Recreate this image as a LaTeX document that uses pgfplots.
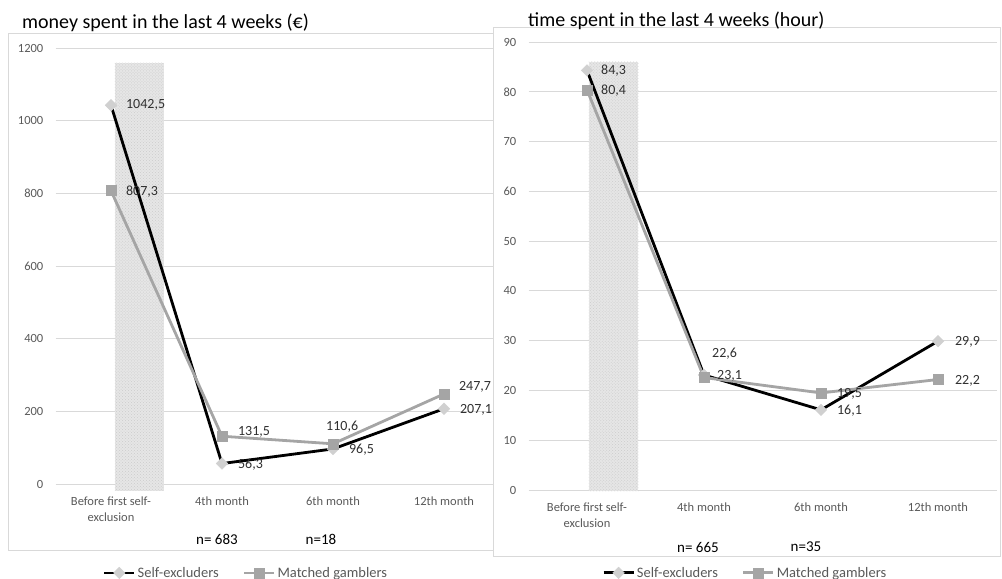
\documentclass[border=0pt]{standalone}
\usepackage{fontspec}
\setmainfont{Carlito}
\usepackage{pgfplots}
\pgfplotsset{compat=1.18}
\usepackage{pgfplotstable}
\usetikzlibrary{patterns}

\definecolor{gridc}{HTML}{D9D9D9}
\definecolor{tickc}{HTML}{595959}
\definecolor{matchc}{HTML}{A5A5A5}
\definecolor{selfm}{HTML}{D0D0D0}
\definecolor{bandc}{HTML}{E6E6E6}
\definecolor{labc}{HTML}{303030}

% x y label dx dy (label offset from the point, in pt)
\pgfplotstableread{
x y lab dx dy
0 1042.5 1042,5 15 0
1 56.3 56,3 16 -1
2 96.5 96,5 16 -1
3 207.1 207,1 16 -1
}\moneyself
\pgfplotstableread{
x y lab dx dy
0 807.3 807,3 15 -1
1 131.5 131,5 16 4
2 110.6 110,6 -7 17
3 247.7 247,7 15 7
}\moneymatch
\pgfplotstableread{
x y lab dx dy
0 84.3 84,3 14 0
1 23.1 23,1 13 -1
2 16.1 16,1 16 -1
3 29.9 29,9 17 -1
}\timeself
\pgfplotstableread{
x y lab dx dy
0 80.4 80,4 14 -1
1 22.6 22,6 8 24
2 19.5 19,5 16 -1
3 22.2 22,2 17 -1
}\timematch

\pgfplotsset{
  chart/.style={
    scale only axis, xmin=-0.5, xmax=3.5, ymin=0,
    axis line style={draw=none}, major tick length=0pt,
    ymajorgrids, grid style={gridc, line width=0.9bp},
    xtick={0,1,2,3},
    xticklabels={{Before first self-\\exclusion},{4th month},{6th month},{12th month}},
    xticklabel style={align=center, font=\fontsize{12.5bp}{15.5bp}\selectfont,
      text=tickc, anchor=north, inner sep=0pt, yshift=-13bp},
    yticklabel style={font=\fontsize{12.5bp}{15bp}\selectfont, text=tickc,
      anchor=east, inner sep=0pt, xshift=-12bp},
    /pgf/number format/assume math mode=true,
    /pgf/number format/1000 sep={},
    clip=false,
    legend columns=2,
    legend style={draw=none, fill=none, font=\fontsize{14.5bp}{16bp}\selectfont,
      text=tickc, anchor=center, inner sep=0pt,
      /tikz/every even column/.append style={column sep=22bp}},
    legend image code/.code={\draw[mark repeat=2, mark phase=2]
      plot coordinates {(0bp,0bp) (15bp,0bp) (30bp,0bp)};},
  },
  band/.style={draw=none, fill=bandc,
    postaction={pattern=crosshatch dots, pattern color=black!20}},
  labels/.style={draw=none, mark=none, forget plot,
    nodes near coords, point meta=explicit symbolic,
    visualization depends on={\thisrow{dx}\as\dx},
    visualization depends on={\thisrow{dy}\as\dy},
    every node near coord/.append style={anchor=west, inner sep=0pt,
      xshift=\dx, yshift=\dy, text=labc, font=\fontsize{14bp}{14bp}\selectfont}},
  selfline/.style={black, line width=2.8bp, mark=square*, mark size=4.1bp,
    mark options={fill=selfm, draw=selfm, line width=0.4bp, rotate=45, solid}},
  matchline/.style={matchc, line width=2.8bp, mark=square*, mark size=5bp,
    mark options={fill=matchc, draw=matchc, line width=0.4bp, solid}},
}

\begin{document}
\begin{tikzpicture}
\useasboundingbox (0,0) rectangle (1002bp,579bp);

% left chart frame
\draw[gridc, line width=0.8bp] (8bp,29bp) rectangle (495bp,546bp);

\begin{axis}[chart, at={(55.5bp,95bp)}, anchor=south west,
    width=444bp, height=436bp, ymax=1200, ytick={0,200,...,1200},
    legend style={at={(0.429,-0.204)}}]
  \addplot[band, forget plot] coordinates {(0.036,-19) (0.477,-19) (0.477,1159) (0.036,1159)} -- cycle;
  \addplot[selfline] table[x=x, y=y] {\moneyself};
  \addlegendentry{Self-excluders}
  \addplot[labels] table[x=x, y=y, meta=lab] {\moneyself};
  \addplot[matchline] table[x=x, y=y] {\moneymatch};
  \addlegendentry{Matched gamblers}
  \addplot[labels] table[x=x, y=y, meta=lab] {\moneymatch};
\end{axis}

% right chart frame
\filldraw[fill=white, draw=gridc, line width=0.8bp] (493bp,23bp) rectangle (1000bp,552bp);

\begin{axis}[chart, at={(528.5bp,89bp)}, anchor=south west,
    width=468bp, height=448bp, ymax=90, ytick={0,10,...,90},
    legend style={at={(0.463,-0.185)}}]
  \addplot[band, forget plot] coordinates {(0.017,-0.3) (0.44,-0.3) (0.44,86) (0.017,86)} -- cycle;
  \addplot[selfline] table[x=x, y=y] {\timeself};
  \addlegendentry{Self-excluders}
  \addplot[labels] table[x=x, y=y, meta=lab] {\timeself};
  \addplot[matchline] table[x=x, y=y] {\timematch};
  \addlegendentry{Matched gamblers}
  \addplot[labels] table[x=x, y=y, meta=lab] {\timematch};
\end{axis}

% titles and sample sizes
\node[anchor=base west, inner sep=0pt, font=\fontsize{20bp}{20bp}\selectfont]
  at (22bp,550bp) {money spent in the last 4 weeks (€)};
\node[anchor=base west, inner sep=0pt, font=\fontsize{20bp}{20bp}\selectfont]
  at (528bp,552bp) {time spent in the last 4 weeks (hour)};
\node[font=\fontsize{15bp}{15bp}\selectfont] at (217bp,40bp) {n= 683};
\node[font=\fontsize{15bp}{15bp}\selectfont] at (321bp,40bp) {n=18};
\node[font=\fontsize{15bp}{15bp}\selectfont] at (698bp,32bp) {n= 665};
\node[font=\fontsize{15bp}{15bp}\selectfont] at (806bp,32bp) {n=35};
\end{tikzpicture}
\end{document}
